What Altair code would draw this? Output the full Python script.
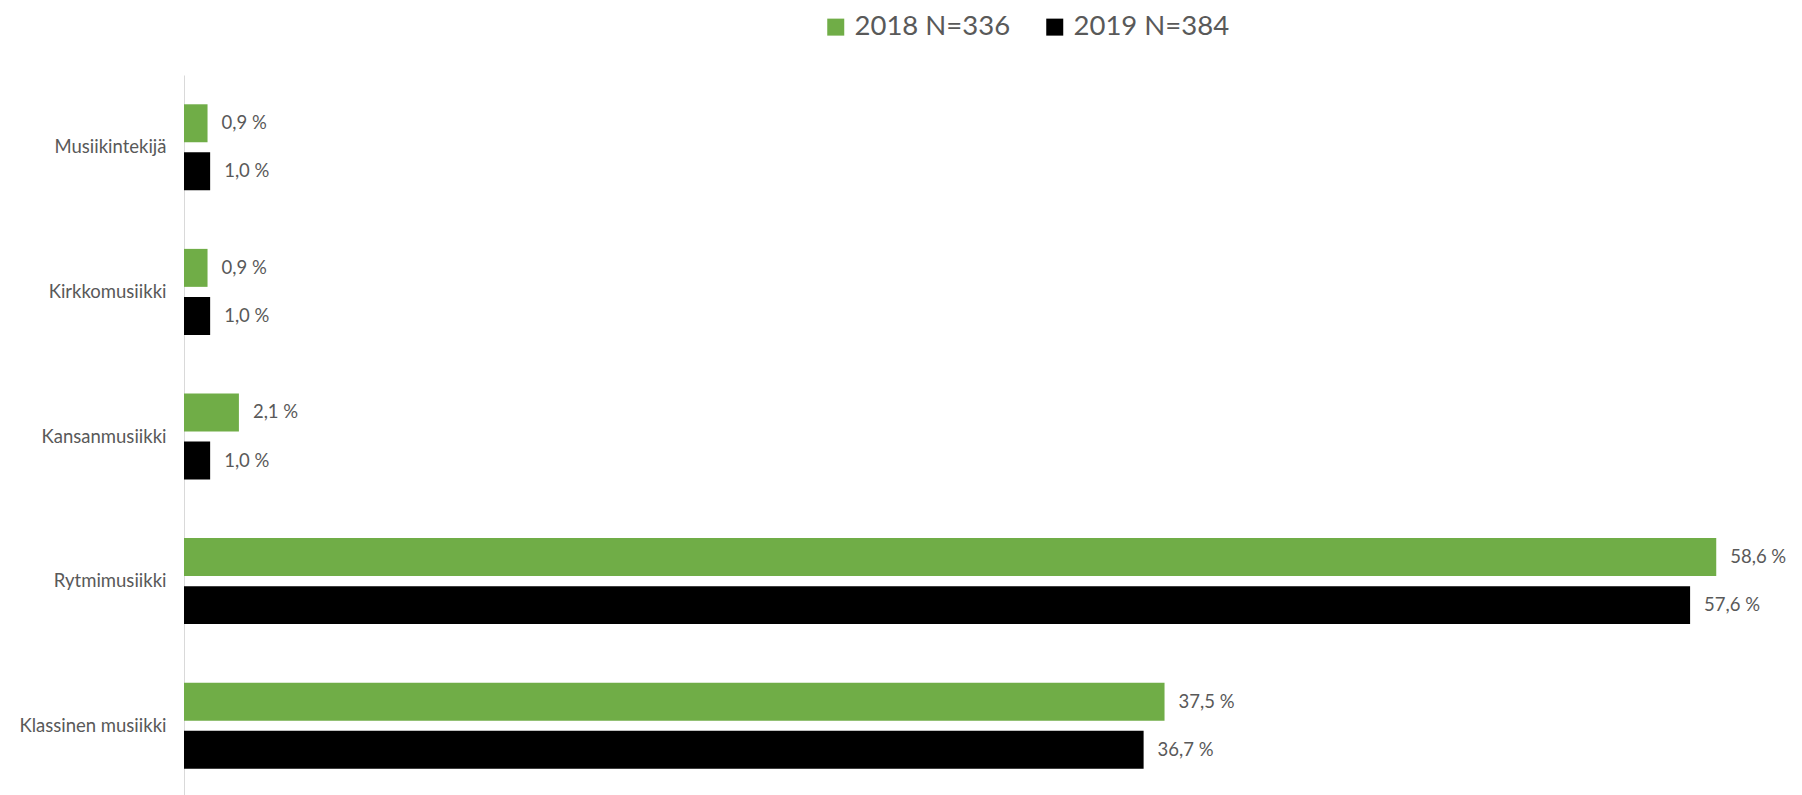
import altair as alt
import pandas as pd

categories = ["Musiikintekijä", "Kirkkomusiikki", "Kansanmusiikki", "Rytmimusiikki", "Klassinen musiikki"]
series = ["2018 N=336", "2019 N=384"]
values_2018 = [0.9, 0.9, 2.1, 58.6, 37.5]
values_2019 = [1.0, 1.0, 1.0, 57.6, 36.7]
colors = ["#70AD47", "#000000"]

rows = []
for c, a, b in zip(categories, values_2018, values_2019):
    rows.append({"cat": c, "series": series[0], "value": a})
    rows.append({"cat": c, "series": series[1], "value": b})
df = pd.DataFrame(rows)

font = "Lato"
gray = "#595959"

y = alt.Y("cat:N", sort=categories, title=None,
          scale=alt.Scale(paddingInner=0.405, paddingOuter=0.2025),
          axis=alt.Axis(domainColor="#d9d9d9", domainWidth=1, ticks=False, labelFont=font,
                        labelFontSize=18.5, labelColor=gray, labelPadding=18, grid=False))
yoff = alt.YOffset("series:N", sort=series, scale=alt.Scale(paddingInner=0.21, paddingOuter=0))
x = alt.X("value:Q", scale=alt.Scale(domain=[0, 61]), axis=None)

bars = alt.Chart(df).mark_bar().encode(
    x=x, y=y, yOffset=yoff,
    color=alt.Color("series:N", sort=series,
                    scale=alt.Scale(domain=series, range=colors),
                    legend=alt.Legend(title=None, orient="none", legendX=638, legendY=-62,
                                      direction="horizontal", symbolType="square",
                                      symbolSize=289, symbolStrokeWidth=0,
                                      labelFont=font, labelFontSize=27.5, labelColor=gray,
                                      labelOffset=5, columnPadding=30)),
)

labels = alt.Chart(df).transform_calculate(
    label="replace(format(datum.value, '.1f'), '.', ',') + ' %'"
).mark_text(align="left", baseline="middle", dx=14, font=font, fontSize=18.5, color=gray).encode(
    x=x, y=y, yOffset=yoff, text="label:N"
)

chart = alt.layer(bars, labels).properties(
    width=1595, height=723,
    autosize=alt.AutoSizeParams(type="none"),
    padding={"left": 176, "top": 67, "right": 10, "bottom": 0},
).configure(background="white").configure_view(stroke=None)

chart.save("out.html", embed_options={"renderer": "svg", "actions": False})
